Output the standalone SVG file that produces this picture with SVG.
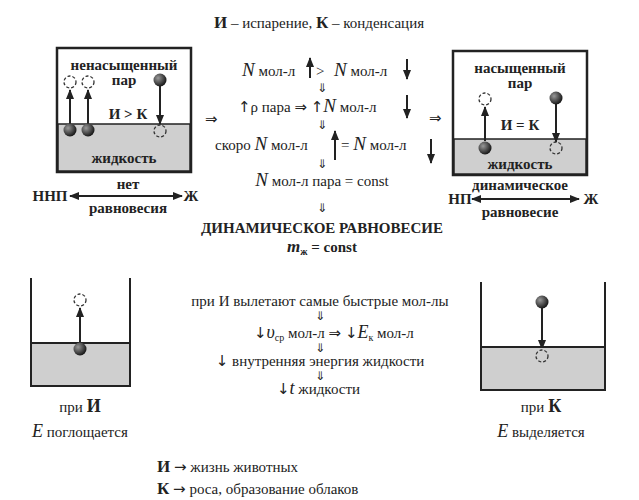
<svg xmlns="http://www.w3.org/2000/svg" width="639" height="500" viewBox="0 0 639 500">
<defs>
<radialGradient id="g" cx="0.35" cy="0.35" r="0.7"><stop offset="0" stop-color="#999"/><stop offset="1" stop-color="#111"/></radialGradient>
<marker id="ah" viewBox="0 0 10 10" refX="9" refY="5" markerWidth="5" markerHeight="5" orient="auto-start-reverse"><path d="M0,1 L10,5 L0,9 z" fill="#222"/></marker>
</defs>
<style>
text{font-family:"Times New Roman","Liberation Serif","DejaVu Serif",serif;fill:#222;font-size:15px}
.b{font-weight:bold}
.c{text-anchor:middle}
.i{font-style:italic}
.ar{font-family:"DejaVu Sans",sans-serif;font-weight:normal;font-style:normal}
.dd{font-family:"DejaVu Sans",sans-serif;font-size:12px}
.box{fill:#fff;stroke:#222;stroke-width:2.5}
.liq{fill:#cfcfcf;stroke:#222;stroke-width:1.5}
.ball{fill:url(#g)}
.ghost{fill:none;stroke:#333;stroke-width:1.3;stroke-dasharray:3,2}
.arr{stroke:#222;stroke-width:2;fill:none;marker-end:url(#ah)}
</style>
<rect width="639" height="500" fill="#fff"/>
<text x="319" y="28" class="c"><tspan class="b" font-size="17">И</tspan> – испарение, <tspan class="b" font-size="17">К</tspan> – конденсация</text>

<g id="box1">
<rect x="57" y="48" width="134" height="124" class="box"/>
<rect x="58" y="124" width="132" height="47" class="liq"/>
<text x="124" y="70" class="c b" font-size="14">ненасыщенный</text>
<text x="124" y="85" class="c b" font-size="14">пар</text>
<text x="128" y="119" class="c b" font-size="20">И &gt; К</text>
<text x="124" y="163" class="c b" font-size="14">жидкость</text>
<circle cx="70" cy="82" r="6" class="ghost"/><circle cx="88" cy="82" r="6" class="ghost"/>
<line x1="70" y1="124" x2="70" y2="90" class="arr"/><line x1="88" y1="124" x2="88" y2="90" class="arr"/>
<circle cx="70" cy="130" r="6.5" class="ball"/><circle cx="88" cy="130" r="6.5" class="ball"/>
<line x1="160" y1="86" x2="160" y2="124" class="arr"/>
<circle cx="160" cy="80" r="6.5" class="ball"/><circle cx="160" cy="131" r="6" class="ghost"/>
</g>
<g id="rel1">
<text x="128" y="189" class="c b" font-size="14">нет</text>
<text x="50" y="201" class="c b" font-size="16">ННП</text>
<text x="191" y="201" class="c b" font-size="16">Ж</text>
<text x="128" y="213" class="c b" font-size="14">равновесия</text>
</g>

<g id="box2">
<rect x="453" y="51" width="134" height="124" class="box"/>
<rect x="454" y="139" width="132" height="35" class="liq"/>
<text x="520" y="73" class="c b" font-size="14">насыщенный</text>
<text x="520" y="88" class="c b" font-size="14">пар</text>
<text x="520" y="130" class="c b" font-size="20">И = К</text>
<text x="520" y="169" class="c b" font-size="14">жидкость</text>
<circle cx="485" cy="99" r="6" class="ghost"/>
<line x1="485" y1="141" x2="485" y2="107" class="arr"/>
<circle cx="485" cy="148" r="6.5" class="ball"/>
<line x1="556" y1="104" x2="556" y2="142" class="arr"/>
<circle cx="556" cy="98" r="6.5" class="ball"/><circle cx="556" cy="148" r="6" class="ghost"/>
</g>
<g id="rel2">
<text x="520" y="190" class="c b" font-size="14">динамическое</text>
<text x="460" y="204" class="c b" font-size="16">НП</text>
<text x="591" y="204" class="c b" font-size="16">Ж</text>
<text x="520" y="217" class="c b" font-size="14">равновесие</text>
</g>

<g id="connectors">
<line x1="70" y1="196" x2="182" y2="196" class="arr" marker-start="url(#ah)" stroke-width="1.5"/>
<line x1="472" y1="199" x2="579" y2="199" class="arr" marker-start="url(#ah)" stroke-width="1.5"/>
<line x1="310" y1="78" x2="310" y2="58" class="arr"/>
<line x1="407" y1="59" x2="407" y2="79" class="arr"/>
<line x1="407" y1="95" x2="407" y2="118" class="arr"/>
<line x1="335" y1="160" x2="335" y2="131" class="arr"/>
<line x1="431" y1="139" x2="431" y2="163" class="arr"/>
<line x1="80" y1="343" x2="80" y2="308" class="arr"/>
<line x1="542" y1="308" x2="542" y2="349" class="arr"/>
</g>

<g id="center">
<text x="242" y="76"><tspan class="i" font-size="19">N</tspan> мол-л</text>
<text x="316" y="76">&gt;</text>
<text x="334" y="76"><tspan class="i" font-size="19">N</tspan> мол-л</text>
<text x="322" y="92" class="c dd">⇓</text>
<text x="238" y="112"><tspan class="ar">↑</tspan>ρ пара <tspan class="ar">⇒</tspan> <tspan class="ar">↑</tspan><tspan class="i" font-size="19">N</tspan> мол-л</text>
<text x="205" y="124" class="ar">⇒</text>
<text x="429" y="123" class="ar">⇒</text>
<text x="322" y="129" class="c dd">⇓</text>
<text x="215" y="150">скоро <tspan class="i" font-size="19">N</tspan> мол-л</text>
<text x="341" y="150">= <tspan class="i" font-size="19">N</tspan> мол-л</text>
<text x="322" y="168" class="c dd">⇓</text>
<text x="322" y="186" class="c"><tspan class="i" font-size="19">N</tspan> мол-л пара = const</text>
<text x="322" y="212" class="c dd">⇓</text>
<text x="322" y="233" class="c b">ДИНАМИЧЕСКОЕ РАВНОВЕСИЕ</text>
<text x="322" y="252" class="c b"><tspan class="i" font-size="17">m</tspan><tspan font-size="10" dy="3">ж</tspan><tspan dy="-3"> = const</tspan></text>
</g>

<g id="cup1">
<rect x="31" y="343" width="99" height="43" class="liq" stroke="none"/>
<path d="M31,278 V386 H130 V278 M31,343 H130" fill="none" stroke="#222" stroke-width="2"/>
<circle cx="80" cy="300" r="6" class="ghost"/>
<circle cx="80" cy="349" r="6.5" class="ball"/>
<text x="80" y="412" class="c">при <tspan class="b" font-size="18">И</tspan></text>
<text x="80" y="437" class="c"><tspan class="i" font-size="18">E</tspan> поглощается</text>
</g>
<g id="cup2">
<rect x="481" y="347" width="124" height="43" class="liq" stroke="none"/>
<path d="M481,282 V390 H605 V282 M481,347 H605" fill="none" stroke="#222" stroke-width="2"/>
<circle cx="542" cy="302" r="6.5" class="ball"/>
<circle cx="542" cy="356" r="6" class="ghost"/>
<text x="541" y="412" class="c">при <tspan class="b" font-size="18">К</tspan></text>
<text x="541" y="437" class="c"><tspan class="i" font-size="18">E</tspan> выделяется</text>
</g>

<g id="center2">
<text x="320" y="306" class="c" font-size="14">при И вылетают самые быстрые мол-лы</text>
<text x="320" y="320" class="c dd">⇓</text>
<text x="254" y="338"><tspan class="ar">↓</tspan><tspan class="i" font-size="18">υ</tspan><tspan font-size="10" dy="3">ср</tspan><tspan dy="-3"> мол-л </tspan><tspan class="ar">⇒</tspan><tspan> </tspan><tspan class="ar">↓</tspan><tspan class="i" font-size="18">E</tspan><tspan font-size="10" dy="3">к</tspan><tspan dy="-3"> мол-л</tspan></text>
<text x="320" y="352" class="c dd">⇓</text>
<text x="320" y="366" class="c"><tspan class="ar">↓</tspan> внутренняя энергия жидкости</text>
<text x="320" y="380" class="c dd">⇓</text>
<text x="277" y="394"><tspan class="ar">↓</tspan><tspan class="i" font-size="18">t</tspan> жидкости</text>
</g>

<g id="notes">
<text x="157" y="472"><tspan class="b" font-size="17">И</tspan> <tspan class="ar">→</tspan> жизнь животных</text>
<text x="157" y="494"><tspan class="b" font-size="17">К</tspan> <tspan class="ar">→</tspan> роса, образование облаков</text>
</g>
</svg>
